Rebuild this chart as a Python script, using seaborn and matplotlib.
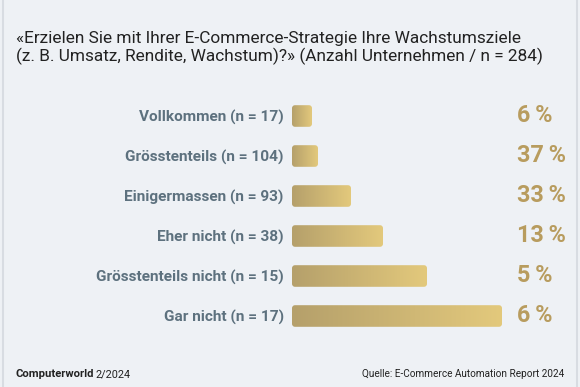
import numpy as np
import pandas as pd
import matplotlib
matplotlib.use("Agg")
import matplotlib.pyplot as plt
import seaborn as sns
from matplotlib.patches import FancyBboxPatch
from matplotlib.lines import Line2D
from matplotlib.colors import LinearSegmentedColormap

kategorien = ["Vollkommen (n = 17)", "Grösstenteils (n = 104)", "Einigermassen (n = 93)",
              "Eher nicht (n = 38)", "Grösstenteils nicht (n = 15)", "Gar nicht (n = 17)"]
prozent = [6, 37, 33, 13, 5, 6]
# Balkenlänge so wie im Bild (nicht proportional zu den Prozenten)
balken = [20, 26, 59, 91, 135, 210]

bg = "#eef1f5"
gold = "#b89c5e"
label_col = "#5d717e"

sns.set_theme(style="white")
plt.rcParams["font.family"] = ["Roboto", "DejaVu Sans"]

df = pd.DataFrame({"kat": kategorien, "len": balken, "pct": prozent})

fig = plt.figure(figsize=(5.8, 3.87), dpi=100)
fig.patch.set_facecolor(bg)
ax = fig.add_axes([292 / 580, (387 - 336) / 387, 288 / 580, 240 / 387])
ax.set_facecolor(bg)

sns.barplot(data=df, x="len", y="kat", orient="h", ax=ax, width=0.54, color=gold)

ax.set_xlim(0, 288)
ax.set_ylim(5.5, -0.5)
for s in ax.spines.values():
    s.set_visible(False)
ax.set_xticks([])
ax.set_xlabel("")
ax.set_ylabel("")
ax.tick_params(axis="y", length=0, pad=6)
for t in ax.get_yticklabels():
    t.set_fontsize(11.1)
    t.set_fontweight("bold")
    t.set_color(label_col)

# Farbverlauf in die Balken legen
cmap = LinearSegmentedColormap.from_list("g", ["#b5a06b", "#e3c97c"])
grad = np.linspace(0, 1, 256).reshape(1, -1)
for p in list(ax.patches):
    x0, y0, w, h = p.get_x(), p.get_y(), p.get_width(), p.get_height()
    p.set_visible(False)
    clip = FancyBboxPatch((x0, y0), w, h, boxstyle="round,pad=0,rounding_size=3",
                          mutation_aspect=1 / 40, transform=ax.transData,
                          facecolor="none", edgecolor="none")
    ax.add_patch(clip)
    im = ax.imshow(grad, cmap=cmap, extent=[x0, x0 + w, y0 + h, y0], aspect="auto",
                   interpolation="bicubic", zorder=2)
    im.set_clip_path(clip)
ax.set_xlim(0, 288)
ax.set_ylim(5.5, -0.5)

for i, v in enumerate(prozent):
    ax.text(225, i, f"{v}\u2009%", ha="left", va="center", fontsize=16.8,
            fontweight="bold", color=gold)

fig.text(16 / 580, 1 - 31 / 387,
         "«Erzielen Sie mit Ihrer E-Commerce-Strategie Ihre Wachstumsziele\n"
         "(z. B. Umsatz, Rendite, Wachstum)?» (Anzahl Unternehmen / n = 284)",
         ha="left", va="top", fontsize=12.4, color="#222222", linespacing=1.15)

cw = fig.text(16 / 580, 1 - 374 / 387, "Computerworld", ha="left", va="center",
              fontsize=8.1, fontweight="bold", color="#222222")
fig.canvas.draw()
bb = cw.get_window_extent()
fig.text((bb.x1 + 1.5) / 580, 1 - 374 / 387, "2/2024", ha="left", va="center",
         fontsize=7.8, color="#222222")
fig.text(564 / 580, 1 - 374 / 387, "Quelle: E-Commerce Automation Report 2024",
         ha="right", va="center", fontsize=7.2, color="#222222")

for xp in (2.5, 577):
    fig.add_artist(Line2D([xp / 580, xp / 580], [0, 1], color="#d8dce2", lw=1.5))

fig.savefig("out.png", dpi=100, facecolor=bg)
